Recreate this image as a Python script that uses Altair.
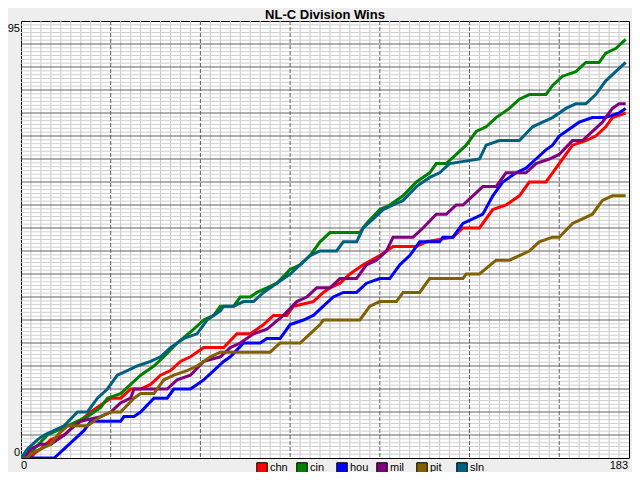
import altair as alt
import pandas as pd
import numpy as np

TITLE = "NL-C Division Wins"
TEAMS = ["chn", "cin", "hou", "mil", "pit", "sln"]
COLORS = ["#ff0000", "#008000", "#0000ff", "#800080", "#806000", "#006080"]
X_MAX = 183
Y_MAX = 95
X_TICKS = [0, 183]
Y_TICKS = [0, 95]

chn_day = [0, 3, 4, 6, 9, 13, 16, 21, 25, 27, 30, 33, 36, 39, 42, 45, 48, 51, 55, 61,
           65, 69, 73, 76, 80, 82, 88, 91, 93, 96, 99, 103, 108, 112, 119, 122, 130, 133, 138, 142,
           146, 150, 153, 158, 160, 163, 166, 170, 173, 176, 178, 182]
chn_wins = [0, 0, 1, 2, 4, 5, 7, 10, 12, 13, 13, 15, 15, 16, 18, 19, 21, 22, 24, 24,
            27, 27, 29, 31, 31, 33, 34, 36, 37, 38, 40, 42, 44, 46, 46, 47, 48, 50, 50, 54,
            55, 57, 60, 60, 62, 65, 68, 69, 70, 72, 74, 75]

cin_day = [0, 2, 4, 8, 11, 14, 20, 24, 26, 30, 33, 36, 40, 43, 47, 52, 55, 58, 60, 64,
           66, 69, 71, 74, 77, 81, 84, 87, 90, 93, 102, 104, 108, 111, 115, 119, 123, 125, 128, 131,
           134, 137, 140, 143, 147, 150, 153, 158, 160, 163, 167, 170, 174, 176, 179, 182]
cin_wins = [0, 0, 2, 5, 6, 7, 9, 11, 13, 14, 16, 18, 20, 22, 25, 28, 30, 31, 33, 33,
            35, 35, 36, 37, 38, 41, 42, 44, 47, 49, 49, 51, 54, 55, 57, 60, 62, 64, 64, 66,
            68, 71, 72, 74, 76, 78, 79, 79, 81, 83, 84, 86, 86, 88, 89, 91]

hou_day = [0, 10, 13, 16, 19, 21, 24, 30, 31, 34, 36, 40, 44, 46, 51, 53, 55, 58, 61, 63,
           67, 72, 74, 78, 81, 85, 88, 91, 94, 97, 101, 104, 108, 111, 114, 117, 120, 126, 127, 130,
           133, 136, 139, 142, 145, 149, 152, 155, 158, 160, 162, 164, 168, 172, 176, 180, 182]
hou_wins = [0, 0, 2, 4, 6, 8, 8, 8, 9, 9, 10, 13, 13, 15, 15, 16, 17, 19, 21, 22,
            25, 25, 26, 26, 29, 30, 31, 33, 35, 36, 36, 38, 39, 39, 42, 44, 47, 47, 48, 48,
            51, 52, 53, 57, 60, 62, 63, 65, 67, 68, 70, 71, 73, 74, 74, 75, 76]

mil_day = [0, 1, 3, 6, 9, 13, 16, 18, 24, 27, 30, 33, 34, 44, 47, 51, 55, 60, 63, 66,
           70, 74, 79, 83, 86, 89, 93, 96, 101, 104, 107, 110, 112, 118, 121, 125, 128, 131, 133, 136,
           139, 143, 146, 152, 155, 159, 162, 166, 169, 172, 175, 178, 180, 182]
mil_wins = [0, 0, 2, 3, 3, 5, 7, 8, 9, 10, 12, 13, 15, 15, 17, 18, 21, 22, 24, 25,
            27, 28, 31, 34, 35, 37, 37, 39, 39, 42, 43, 45, 48, 48, 50, 53, 53, 55, 55, 57,
            59, 59, 62, 62, 64, 65, 66, 69, 69, 71, 73, 76, 77, 77]

pit_day = [0, 2, 3, 6, 9, 11, 14, 20, 24, 27, 30, 34, 36, 40, 43, 46, 50, 53, 57, 60,
           75, 78, 84, 87, 90, 91, 102, 105, 108, 113, 115, 120, 123, 133, 134, 138, 143, 147, 150, 153,
           156, 160, 162, 166, 169, 172, 175, 178, 182]
pit_wins = [0, 0, 1, 2, 3, 5, 7, 7, 9, 10, 10, 13, 14, 14, 17, 18, 19, 20, 22, 23,
            23, 25, 25, 27, 29, 30, 30, 33, 34, 34, 36, 36, 39, 39, 40, 40, 43, 43, 44, 45,
            47, 48, 48, 51, 52, 53, 56, 57, 57]

sln_day = [0, 2, 5, 7, 10, 13, 17, 20, 23, 26, 29, 32, 35, 39, 42, 45, 49, 53, 56, 60,
           61, 64, 67, 70, 73, 77, 81, 87, 90, 95, 97, 101, 103, 106, 109, 112, 115, 119, 123, 126,
           129, 138, 140, 144, 150, 154, 157, 160, 164, 167, 170, 173, 176, 182]
sln_wins = [0, 2, 4, 5, 6, 7, 10, 10, 13, 15, 18, 19, 20, 21, 22, 24, 26, 27, 30, 32,
            33, 33, 34, 34, 36, 38, 40, 44, 45, 45, 47, 47, 50, 52, 54, 55, 56, 59, 61, 62,
            64, 65, 68, 69, 69, 72, 73, 74, 76, 77, 77, 79, 82, 86]

SERIES = {
    "chn": (chn_day, chn_wins),
    "cin": (cin_day, cin_wins),
    "hou": (hou_day, hou_wins),
    "mil": (mil_day, mil_wins),
    "pit": (pit_day, pit_wins),
    "sln": (sln_day, sln_wins),
}

rows = []
for team in TEAMS:
    d, w = SERIES[team]
    for i, (dd, ww) in enumerate(zip(d, w)):
        rows.append({"team": team, "day": dd, "wins": ww, "idx": i})
df = pd.DataFrame(rows)

FONT = "Liberation Sans"
W, H = 608, 437
LEG_X0, LEG_STEP, LEG_Y = 241, 40, 447   # legend layout (pixels, relative to plot origin)

xscale = alt.Scale(domain=[0, X_MAX], nice=False, zero=False)
yscale = alt.Scale(domain=[0, Y_MAX], nice=False, zero=False)
cscale = alt.Scale(domain=TEAMS, range=COLORS)

# grid tick values
xminor = [v for v in range(3, X_MAX, 3) if v % 27 != 0]
xmajor = list(range(27, X_MAX, 27))
yminor = [k * 5 / 6 for k in range(1, int(Y_MAX * 6 / 5) + 1) if k % 6 != 0 and k * 5 / 6 < Y_MAX]
ymajor = list(range(5, Y_MAX, 5))

def vrule(vals, **kw):
    return alt.Chart(pd.DataFrame({"g": vals})).mark_rule(**kw).encode(
        x=alt.X("g:Q", scale=xscale, axis=None))

def hrule(vals, **kw):
    return alt.Chart(pd.DataFrame({"g": vals})).mark_rule(**kw).encode(
        y=alt.Y("g:Q", scale=yscale, axis=None))

g_xminor = vrule(xminor, color="#c8c8c8", strokeWidth=1)
g_yminor = hrule(yminor, color="#d0d0d0", strokeWidth=1)
g_ymajor = hrule(ymajor, color="#606060", strokeWidth=1)
g_xmajor = vrule(xmajor, color="#606060", strokeWidth=1, strokeDash=[4, 2])

lines = alt.Chart(df).mark_line(strokeWidth=3, clip=True).encode(
    x=alt.X("day:Q", scale=xscale, axis=None),
    y=alt.Y("wins:Q", scale=yscale, axis=None),
    color=alt.Color("team:N", scale=cscale, legend=None),
    order="idx:Q",
)

# axis labels (end values only), placed through the scales
lab_kw = dict(font=FONT, fontSize=11, color="black")
xl0 = alt.Chart(pd.DataFrame({"v": [X_TICKS[0]]})).mark_text(align="left", baseline="top", **lab_kw).encode(
    x=alt.X("v:Q", scale=xscale, axis=None), y=alt.value(H + 2), text="v:Q")
xl1 = alt.Chart(pd.DataFrame({"v": [X_TICKS[1]]})).mark_text(align="right", baseline="top", dx=-1, **lab_kw).encode(
    x=alt.X("v:Q", scale=xscale, axis=None), y=alt.value(H + 2), text="v:Q")
yl0 = alt.Chart(pd.DataFrame({"v": [Y_TICKS[0]]})).mark_text(align="right", baseline="bottom", **lab_kw).encode(
    y=alt.Y("v:Q", scale=yscale, axis=None), x=alt.value(-1), text="v:Q")
yl1 = alt.Chart(pd.DataFrame({"v": [Y_TICKS[1]]})).mark_text(align="right", baseline="top", dy=2, **lab_kw).encode(
    y=alt.Y("v:Q", scale=yscale, axis=None), x=alt.value(-1), text="v:Q")

# legend: coloured squares + labels
leg_df = pd.DataFrame({"team": TEAMS, "pos": [LEG_X0 + LEG_STEP * i for i in range(len(TEAMS))]})
leg_sq = alt.Chart(leg_df).mark_square(size=110, filled=True, stroke="black", strokeWidth=1, opacity=1).encode(
    x=alt.X("pos:Q", scale=None, axis=None), y=alt.value(LEG_Y),
    fill=alt.Fill("team:N", scale=cscale, legend=None))
leg_tx = alt.Chart(leg_df).mark_text(align="left", baseline="middle", dx=8, **lab_kw).encode(
    x=alt.X("pos:Q", scale=None, axis=None), y=alt.value(LEG_Y), text="team:N")

title_layer = alt.Chart(pd.DataFrame({"t": [TITLE]})).mark_text(
    font=FONT, fontSize=13, fontWeight="bold", color="black", baseline="middle", align="center"
).encode(text="t:N", x=alt.value(W / 2), y=alt.value(-6))

chart = alt.layer(g_xminor, g_yminor, g_ymajor, g_xmajor, lines,
                  xl0, xl1, yl0, yl1, leg_sq, leg_tx, title_layer).properties(
    width=W, height=H,
    padding={"left": 13, "top": 13, "right": 3, "bottom": 14},
    autosize=alt.AutoSizeParams(type="none"),
    background="#eeeeee",
).configure_view(fill="white", stroke="black", strokeWidth=1)

chart.save("out.html", embed_options={"renderer": "svg", "actions": False})
